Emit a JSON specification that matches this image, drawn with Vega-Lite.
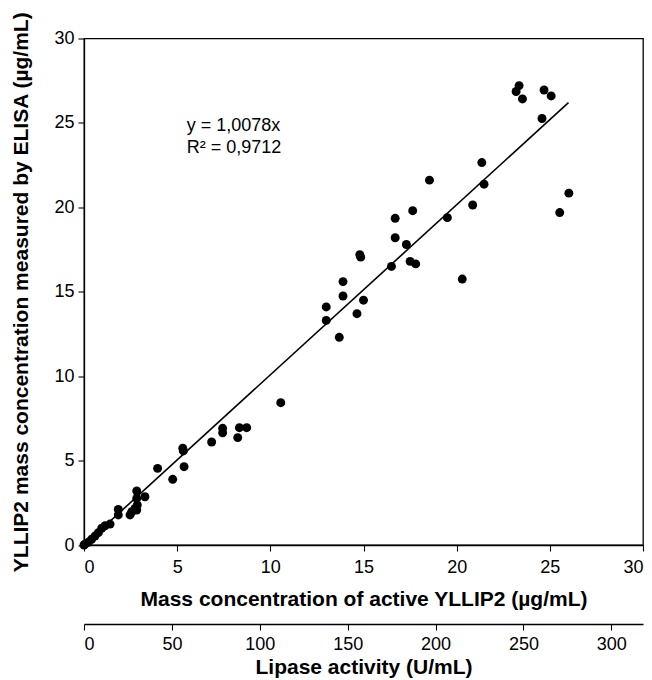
{
  "$schema": "https://vega.github.io/schema/vega-lite/v6.json",
  "autosize": {"type": "none"},
  "width": 559,
  "height": 506.5,
  "padding": {"left": 84, "top": 38.5, "right": 9, "bottom": 135},
  "background": "white",
  "config": {
    "view": {"stroke": "black", "strokeWidth": 1.3},
    "font": "Liberation Sans",
    "axis": {
      "domainColor": "black",
      "domainWidth": 1.3,
      "tickColor": "black",
      "tickWidth": 1.1,
      "tickSize": 6,
      "labelColor": "black",
      "titleColor": "black",
      "labelFont": "Liberation Sans",
      "titleFont": "Liberation Sans",
      "labelFontSize": 18,
      "titleFontSize": 21,
      "titleFontWeight": "bold",
      "grid": false
    }
  },
  "datasets": {
    "points": [
      {"x": 0, "y": 0},
      {"x": 0.05, "y": 0.05},
      {"x": 0.23, "y": 0.16},
      {"x": 0.41, "y": 0.34},
      {"x": 0.59, "y": 0.53},
      {"x": 0.77, "y": 0.73},
      {"x": 0.95, "y": 0.99},
      {"x": 1.13, "y": 1.14},
      {"x": 1.4, "y": 1.24},
      {"x": 1.84, "y": 2.11},
      {"x": 1.84, "y": 1.78},
      {"x": 2.47, "y": 1.78},
      {"x": 2.56, "y": 1.97},
      {"x": 2.74, "y": 2.17},
      {"x": 2.86, "y": 2.37},
      {"x": 2.83, "y": 2.07},
      {"x": 2.83, "y": 3.2},
      {"x": 2.83, "y": 2.76},
      {"x": 3.27, "y": 2.86},
      {"x": 3.95, "y": 4.54},
      {"x": 4.76, "y": 3.89},
      {"x": 5.3, "y": 5.73},
      {"x": 5.33, "y": 5.57},
      {"x": 5.37, "y": 4.64},
      {"x": 6.85, "y": 6.1},
      {"x": 7.44, "y": 6.91},
      {"x": 7.44, "y": 6.65},
      {"x": 8.25, "y": 6.36},
      {"x": 8.34, "y": 6.95},
      {"x": 8.73, "y": 6.95},
      {"x": 10.56, "y": 8.43},
      {"x": 13.0, "y": 14.1},
      {"x": 13.0, "y": 13.3},
      {"x": 13.7, "y": 12.3},
      {"x": 13.9, "y": 15.6},
      {"x": 13.9, "y": 14.75},
      {"x": 14.65, "y": 13.7},
      {"x": 14.8, "y": 17.2},
      {"x": 14.85, "y": 17.05},
      {"x": 15.0, "y": 14.5},
      {"x": 16.5, "y": 16.5},
      {"x": 16.7, "y": 19.35},
      {"x": 16.7, "y": 18.2},
      {"x": 17.3, "y": 17.8},
      {"x": 17.5, "y": 16.8},
      {"x": 17.64, "y": 19.8},
      {"x": 17.8, "y": 16.65},
      {"x": 18.54, "y": 21.61},
      {"x": 19.5, "y": 19.39},
      {"x": 20.3, "y": 15.75},
      {"x": 20.86, "y": 20.14},
      {"x": 21.35, "y": 22.65},
      {"x": 21.47, "y": 21.37},
      {"x": 23.35, "y": 27.21},
      {"x": 23.19, "y": 26.86},
      {"x": 23.53, "y": 26.42},
      {"x": 24.69, "y": 26.95},
      {"x": 25.07, "y": 26.6},
      {"x": 24.58, "y": 25.26},
      {"x": 26.02, "y": 20.84},
      {"x": 25.53, "y": 19.69}
    ],
    "fit": [
      {"x": 0, "y": 0},
      {"x": 26.0, "y": 26.2}
    ],
    "notes": [
      {"x": 5.51, "y": 24.53, "label": "y = 1,0078x"},
      {"x": 5.51, "y": 23.2, "label": "R² = 0,9712"}
    ],
    "activity": [
      {"u": 0},
      {"u": 318}
    ]
  },
  "layer": [
    {
      "layer": [
        {
          "data": {"name": "fit"},
          "mark": {"type": "line", "color": "black", "strokeWidth": 1.6},
          "encoding": {
            "x": {"field": "x", "type": "quantitative"},
            "y": {"field": "y", "type": "quantitative"}
          }
        },
        {
          "data": {"name": "points"},
          "mark": {"type": "point", "filled": true, "color": "black", "opacity": 1, "size": 80},
          "encoding": {
            "x": {"field": "x", "type": "quantitative"},
            "y": {"field": "y", "type": "quantitative"}
          }
        },
        {
          "data": {"name": "notes"},
          "mark": {"type": "text", "align": "left", "baseline": "alphabetic", "fontSize": 18, "font": "Liberation Sans", "color": "black"},
          "encoding": {
            "x": {"field": "x", "type": "quantitative"},
            "y": {"field": "y", "type": "quantitative"},
            "text": {"field": "label"}
          }
        }
      ],
      "encoding": {
        "x": {
          "field": "x",
          "type": "quantitative",
          "scale": {"domain": [0, 30], "nice": false, "zero": true},
          "axis": {
            "orient": "bottom",
            "values": [0, 5, 10, 15, 20, 25, 30],
            "labelPadding": 7,
            "titlePadding": 12,
            "title": "Mass concentration of active YLLIP2 (µg/mL)"
          }
        },
        "y": {
          "field": "y",
          "type": "quantitative",
          "scale": {"domain": [0, 30], "nice": false},
          "axis": {
            "values": [0, 5, 10, 15, 20, 25, 30],
            "labelPadding": 4,
            "titlePadding": 22,
            "titleFontSize": 21,
            "title": "YLLIP2 mass concentration measured by ELISA (µg/mL)"
          }
        }
      }
    },
    {
      "data": {"name": "activity"},
      "mark": {"type": "point", "opacity": 0},
      "encoding": {
        "x": {
          "field": "u",
          "type": "quantitative",
          "scale": {"domain": [0, 318], "nice": false},
          "axis": {
            "orient": "bottom",
            "offset": 79,
            "values": [0, 50, 100, 150, 200, 250, 300],
            "labelPadding": 5,
            "titlePadding": 3,
            "title": "Lipase activity (U/mL)"
          }
        }
      }
    }
  ],
  "resolve": {"scale": {"x": "independent"}, "axis": {"x": "independent"}}
}
